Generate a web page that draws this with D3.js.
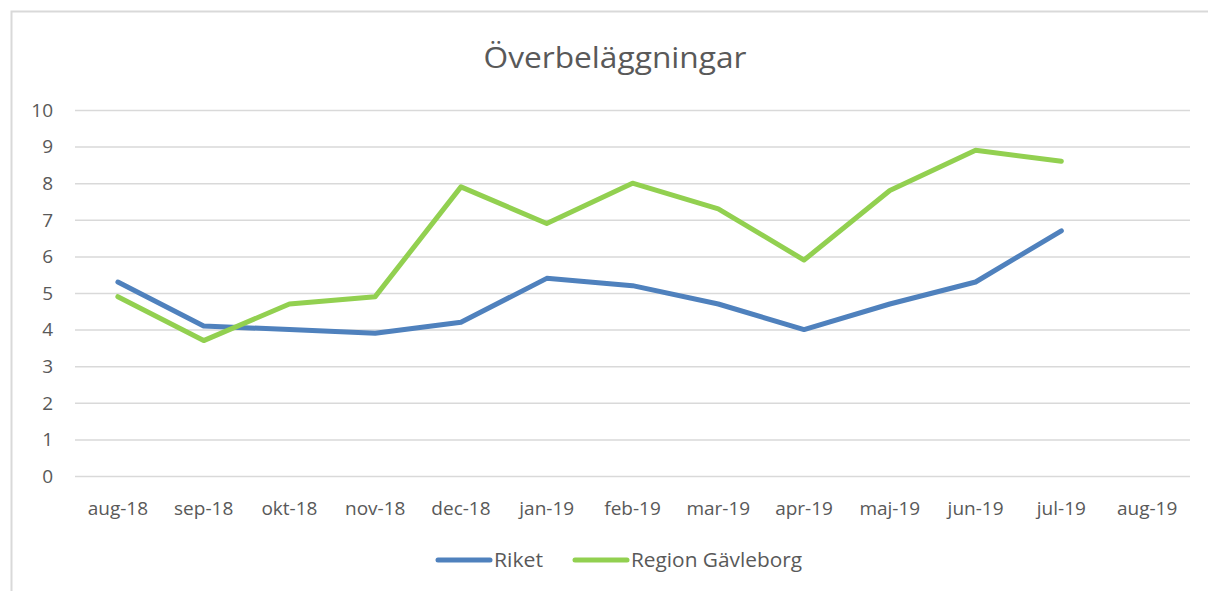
<!DOCTYPE html>
<html>
<head>
<meta charset="utf-8">
<script src="https://cdn.jsdelivr.net/npm/d3@7"></script>
<style>
  html, body { margin: 0; padding: 0; background: #fff; }
  svg { display: block; }
  text { font-family: "Open Sans", "Noto Sans", sans-serif; fill: #595959; }
</style>
</head>
<body>
<svg id="chart" width="1208" height="591"></svg>
<script>
// Månader (kategorier) och värden per serie
const months = ["aug-18", "sep-18", "okt-18", "nov-18", "dec-18", "jan-19", "feb-19",
                "mar-19", "apr-19", "maj-19", "jun-19", "jul-19", "aug-19"];
const riket = [5.3, 4.1, 4.0, 3.9, 4.2, 5.4, 5.2, 4.7, 4.0, 4.7, 5.3, 6.7];
const gavleborg = [4.9, 3.7, 4.7, 4.9, 7.9, 6.9, 8.0, 7.3, 5.9, 7.8, 8.9, 8.6];
const yTicks = [0, 1, 2, 3, 4, 5, 6, 7, 8, 9, 10];
const seriesNames = ["Riket", "Region Gävleborg"];
const seriesColors = ["#4F81BD", "#92D050"];

const svg = d3.select("#chart");

// Diagramram
svg.append("path")
  .attr("d", "M11.5,591 V11.5 H1208")
  .attr("fill", "none")
  .attr("stroke", "#d9d9d9")
  .attr("stroke-width", 2);

const plot = { left: 75, right: 1190, top: 110, bottom: 476 };

const x = d3.scaleBand().domain(months).range([plot.left, plot.right]);
const y = d3.scaleLinear().domain([0, 10]).range([plot.bottom, plot.top]);
const cx = m => x(m) + x.bandwidth() / 2;

// Stödlinjer och y-axelns etiketter
const yAxis = d3.axisLeft(y).tickValues(yTicks).tickSize(-(plot.right - plot.left)).tickPadding(22);
const gy = svg.append("g").attr("transform", `translate(${plot.left},0)`).call(yAxis);
gy.select(".domain").remove();
gy.selectAll(".tick line").attr("stroke", "#d9d9d9").attr("stroke-width", 1.5);
gy.selectAll(".tick text")
  .attr("font-size", 19)
  .attr("font-family", "Open Sans, sans-serif")
  .attr("fill", "#595959")
  .attr("dy", "0.33em");

// x-axelns etiketter
const xAxis = d3.axisBottom(x).tickSize(0).tickPadding(26);
const gx = svg.append("g").attr("transform", `translate(0,${plot.bottom})`).call(xAxis);
gx.select(".domain").remove();
gx.selectAll(".tick text")
  .attr("font-size", 19)
  .attr("font-family", "Open Sans, sans-serif")
  .attr("fill", "#595959");

// Linjer
const line = d3.line()
  .x((d, i) => cx(months[i]))
  .y(d => y(d));

[riket, gavleborg].forEach((vals, k) => {
  svg.append("path")
    .datum(vals)
    .attr("d", line)
    .attr("fill", "none")
    .attr("stroke", seriesColors[k])
    .attr("stroke-width", 5)
    .attr("stroke-linejoin", "round")
    .attr("stroke-linecap", "round");
});

// Rubrik
svg.append("text")
  .attr("x", 615)
  .attr("y", 68)
  .attr("text-anchor", "middle")
  .attr("font-size", 29)
  .attr("textLength", 263)
  .attr("lengthAdjust", "spacingAndGlyphs")
  .text("Överbeläggningar");

// Förklaring
const legendItems = [
  { x: 438, textX: 494, len: 49 },
  { x: 575, textX: 631, len: 171 }
];
legendItems.forEach((it, k) => {
  svg.append("line")
    .attr("x1", it.x).attr("x2", it.x + 52)
    .attr("y1", 560).attr("y2", 560)
    .attr("stroke", seriesColors[k])
    .attr("stroke-width", 5)
    .attr("stroke-linecap", "round");
  svg.append("text")
    .attr("x", it.textX)
    .attr("y", 567)
    .attr("font-size", 19.5)
    .attr("textLength", it.len)
    .attr("lengthAdjust", "spacingAndGlyphs")
    .text(seriesNames[k]);
});
</script>
</body>
</html>
